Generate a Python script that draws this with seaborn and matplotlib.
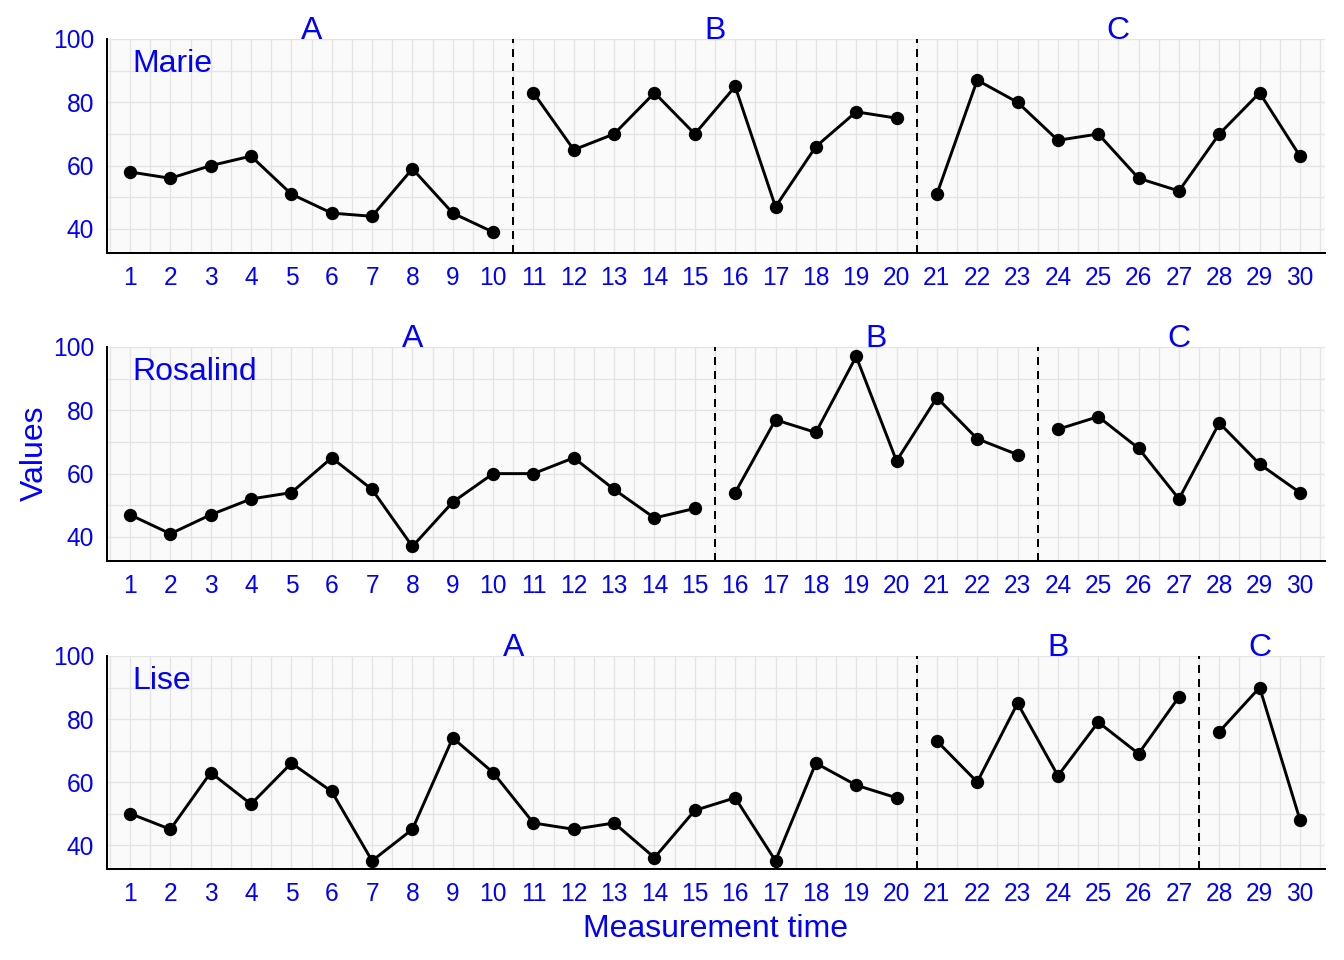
import numpy as np
import pandas as pd
import matplotlib
matplotlib.use('Agg')
import matplotlib.pyplot as plt
from matplotlib.ticker import MultipleLocator, FixedLocator
import seaborn as sns

# ---------------------------------------------------------------------------
# data
# ---------------------------------------------------------------------------
times = list(range(1, 31))

marie_values = [58, 56, 60, 63, 51, 45, 44, 59, 45, 39,
                83, 65, 70, 83, 70, 85, 47, 66, 77, 75,
                51, 87, 80, 68, 70, 56, 52, 70, 83, 63]
rosalind_values = [47, 41, 47, 52, 54, 65, 55, 37, 51, 60,
                   60, 65, 55, 46, 49, 54, 77, 73, 97, 64,
                   84, 71, 66, 74, 78, 68, 52, 76, 63, 54]
lise_values = [50, 45, 63, 53, 66, 57, 35, 45, 74, 63,
               47, 45, 47, 36, 51, 55, 35, 66, 59, 55,
               73, 60, 85, 62, 79, 69, 87, 76, 90, 48]

# number of measurements in phases A, B, C for each person
marie_phases = [10, 10, 10]
rosalind_phases = [15, 8, 7]
lise_phases = [20, 7, 3]

persons = ['Marie', 'Rosalind', 'Lise']
phase_names = ['A', 'B', 'C']

BLUE = '#0000FF'
DPI = 192

sns.set_style('white')
plt.rcParams['font.family'] = ['Liberation Sans', 'DejaVu Sans']


def build_frame(name, values, lengths):
    phase = []
    for p, n in zip(phase_names, lengths):
        phase += [p] * n
    return pd.DataFrame({'person': name, 'time': times,
                         'value': values, 'phase': phase})


df = pd.concat([
    build_frame('Marie', marie_values, marie_phases),
    build_frame('Rosalind', rosalind_values, rosalind_phases),
    build_frame('Lise', lise_values, lise_phases),
], ignore_index=True)
lengths = {'Marie': marie_phases, 'Rosalind': rosalind_phases, 'Lise': lise_phases}

fig = plt.figure(figsize=(1344 / DPI, 960 / DPI), dpi=DPI)

left, right = 107 / 1344, 1325 / 1344
panel_px = [(39, 253), (347, 561), (656, 869)]

for name, (top_px, bot_px) in zip(persons, panel_px):
    bottom = 1 - bot_px / 960
    height = (bot_px - top_px) / 960
    ax = fig.add_axes([left, bottom, right - left, height])
    ax.set_facecolor('#FAFAFA')
    sub = df[df['person'] == name]

    sns.lineplot(data=sub, x='time', y='value', units='phase', estimator=None,
                 color='black', linewidth=1.1, marker='o', markersize=5,
                 markeredgewidth=0, ax=ax, zorder=3)

    # phase boundaries and labels
    start = 1
    for p, n in zip(phase_names, lengths[name]):
        end = start + n - 1
        ax.text((start + end) / 2, 100, p, ha='center', va='baseline',
                color=BLUE, fontsize=12, clip_on=False)
        if end < 30:
            ax.axvline(end + 0.5, color='black', linestyle=(0, (4, 3)),
                       linewidth=0.75, zorder=2)
        start = end + 1

    ax.text(1.05, 89.6, name, ha='left', va='baseline', color=BLUE, fontsize=12)

    ax.set_xlim(0.43, 30.62)
    ax.set_ylim(32.4, 100)
    ax.set_xticks(times)
    ax.xaxis.set_minor_locator(MultipleLocator(0.5))
    ax.set_yticks([40, 60, 80, 100])
    ax.yaxis.set_minor_locator(FixedLocator([50, 70, 90]))
    ax.grid(True, which='both', color='#E4E4E4', linewidth=0.5, zorder=0)
    ax.set_axisbelow(True)
    ax.tick_params(which='major', length=2.75, width=0.75, color='black',
                   labelcolor=BLUE, labelsize=9.2, pad=2)
    ax.tick_params(which='minor', length=0)
    for side in ['top', 'right']:
        ax.spines[side].set_visible(False)
    for side in ['left', 'bottom']:
        ax.spines[side].set_linewidth(0.75)
        ax.spines[side].set_color('black')
    ax.set_xlabel('')
    ax.set_ylabel('')

fig.text(35 / 1344, 1 - 453 / 960, 'Values', rotation=90, ha='center',
         va='center', color=BLUE, fontsize=12)
fig.text(715 / 1344, 1 - 937 / 960, 'Measurement time', ha='center',
         va='baseline', color=BLUE, fontsize=12)

fig.savefig('out.png', dpi=DPI)
